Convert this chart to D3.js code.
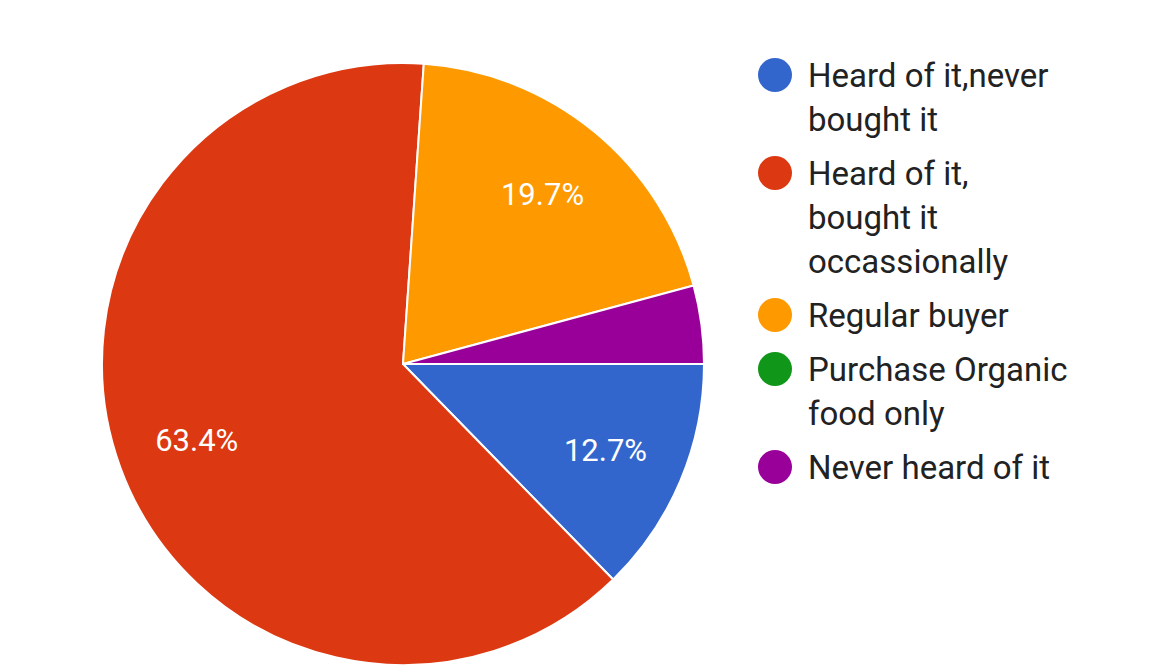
<!DOCTYPE html>
<html>
<head>
<meta charset="utf-8">
<script src="https://cdn.jsdelivr.net/npm/d3@7"></script>
<style>
  body { margin: 0; background: #fff; }
  text { font-family: Roboto, "Noto Sans", sans-serif; }
</style>
</head>
<body>
<div id="chart"></div>
<script>
// data
const categories = [
    "Heard of it,never bought it",
    "Heard of it, bought it occassionally",
    "Regular buyer",
    "Purchase Organic food only",
    "Never heard of it"
];
const values = [12.7, 63.4, 19.7, 0, 4.2];
const colors = ["#3366cc", "#dc3912", "#ff9900", "#109618", "#990099"];

const width = 1162;
const height = 667;
const cx = 403, cy = 364, radius = 301;

const svg = d3.select("#chart")
    .append("svg")
    .attr("width", width)
    .attr("height", height);

const items = categories.map((c, i) => ({ name: c, value: values[i], color: colors[i] }));

// pie starts at 3 o'clock, clockwise
const pie = d3.pie()
    .sort(null)
    .value(d => d.value)
    .startAngle(Math.PI / 2)
    .endAngle(Math.PI / 2 + 2 * Math.PI);

const arc = d3.arc().innerRadius(0).outerRadius(radius);
const labelArc = d3.arc().innerRadius(radius * 0.73).outerRadius(radius * 0.73);

const g = svg.append("g").attr("transform", `translate(${cx},${cy})`);

const arcs = pie(items).filter(d => d.data.value > 0);

g.selectAll("path")
    .data(arcs)
    .enter()
    .append("path")
    .attr("d", arc)
    .attr("fill", d => d.data.color)
    .attr("stroke", "#fff")
    .attr("stroke-width", 2)
    .attr("stroke-linejoin", "round");

// percent labels (only on bigger slices)
g.selectAll("text.pct")
    .data(arcs.filter(d => d.data.value >= 5))
    .enter()
    .append("text")
    .attr("class", "pct")
    .attr("transform", d => `translate(${labelArc.centroid(d)})`)
    .attr("text-anchor", "middle")
    .attr("dy", "0.36em")
    .attr("fill", "#fff")
    .attr("font-size", 31)
    .text(d => d.data.value.toFixed(1) + "%");

// legend
const legendX = 808, lineH = 44, itemGap = 10, maxW = 262, fs = 33;
let baseline = 87;
const legend = svg.append("g");

items.forEach(d => {
    const t = legend.append("text")
        .attr("x", legendX)
        .attr("font-size", fs)
        .attr("fill", "#222");
    // wrap words into lines
    const words = d.name.split(" ");
    let lines = [], cur = "";
    const probe = legend.append("text").attr("font-size", fs);
    words.forEach(w => {
        const test = cur ? cur + " " + w : w;
        probe.text(test);
        if (probe.node().getComputedTextLength() > maxW && cur) {
            lines.push(cur);
            cur = w;
        } else {
            cur = test;
        }
    });
    lines.push(cur);
    probe.remove();

    legend.append("circle")
        .attr("cx", 775)
        .attr("cy", baseline - 12)
        .attr("r", 17)
        .attr("fill", d.color);

    lines.forEach((l, k) => {
        t.append("tspan")
            .attr("x", legendX)
            .attr("y", baseline + k * lineH)
            .text(l);
    });
    baseline += lines.length * lineH + itemGap;
});
</script>
</body>
</html>
